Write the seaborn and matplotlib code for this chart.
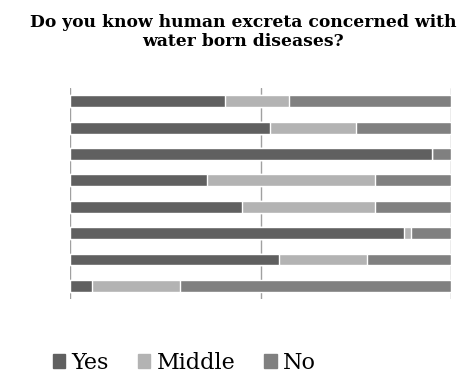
import numpy as np
import pandas as pd
import seaborn as sns
import matplotlib.pyplot as plt
from matplotlib.patches import Patch

# survey answers, percent of respondents (top bar first)
groups = ["G1", "G2", "G3", "G4", "G5", "G6", "G7", "G8"]
yes = [40.6, 52.4, 95.1, 35.9, 45.0, 87.6, 54.8, 5.7]
middle = [16.9, 22.7, 0.0, 44.0, 34.9, 1.8, 23.2, 23.2]
no = [42.5, 24.9, 4.9, 20.1, 20.1, 10.6, 22.0, 71.1]

c_yes, c_mid, c_no = "#606060", "#b3b3b3", "#808080"

df = pd.DataFrame({"group": groups, "Yes": yes, "Middle": middle, "No": no})
df["cum_mid"] = df["Yes"] + df["Middle"]
df["cum_no"] = df["cum_mid"] + df["No"]

sns.set_style("white")
plt.rcParams["font.family"] = ["DejaVu Serif"]
plt.rcParams["text.color"] = "black"

fig = plt.figure(figsize=(4.67, 3.74), dpi=100)
ax = fig.add_axes([0.15, 0.2005, 0.816, 0.5642])

for col, c in [("cum_no", c_no), ("cum_mid", c_mid), ("Yes", c_yes)]:
    sns.barplot(data=df, y="group", x=col, orient="h", color=c, width=0.45,
                edgecolor="white", linewidth=1, saturation=1, ax=ax, zorder=3)

ax.set_xlim(0, 100)
ax.set_ylim(7.5, -0.5)
ax.set_xticks([0, 50, 100])
ax.xaxis.grid(True, color="#a0a0a0", linewidth=1)
ax.set_axisbelow(True)
ax.set_xticklabels([])
ax.set_yticklabels([])
ax.tick_params(length=0)
ax.set_xlabel("")
ax.set_ylabel("")
for s in ax.spines.values():
    s.set_visible(False)

fig.suptitle("Do you know human excreta concerned with\nwater born diseases?",
             x=0.521, y=0.962, fontsize=12.3, fontweight="bold", linespacing=1.15,
             color="black")

handles = [Patch(color=c_yes, label="Yes"), Patch(color=c_mid, label="Middle"),
           Patch(color=c_no, label="No")]
fig.legend(handles=handles, loc="center", bbox_to_anchor=(0.395, 0.03), ncol=3,
           frameon=False, fontsize=16, handlelength=0.55, handleheight=0.55,
           handletextpad=0.3, columnspacing=1.3)

fig.savefig("out.png", dpi=100)
